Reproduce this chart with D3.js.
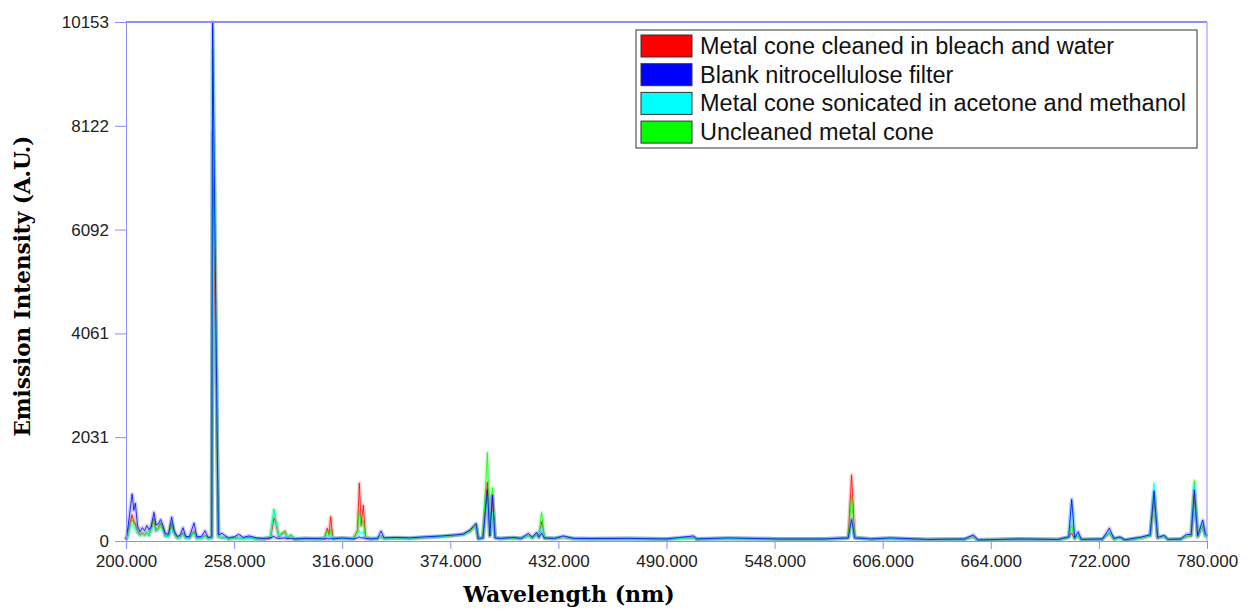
<!DOCTYPE html>
<html>
<head>
<meta charset="utf-8">
<script src="https://cdn.jsdelivr.net/npm/d3@7"></script>
<style>
  body { margin: 0; background: #fff; }
  svg { display: block; }
</style>
</head>
<body>
<div id="chart"></div>
<script>
var svgW = 1256,
    svgH = 613;

// data (wavelength in nm, intensity in A.U.)
var wavelength = [
  200.0, 201.0, 202.2, 203.3, 204.2, 205.0, 206.2, 207.5, 208.8, 210.0,
  211.2, 212.3, 213.5, 215.0, 216.0, 217.2, 218.6, 219.8, 221.0, 222.8,
  224.5, 225.8, 227.5, 229.0, 230.6, 232.0, 234.0, 236.5, 238.0, 240.5,
  242.4, 244.0, 246.0, 246.5, 249.0, 249.6, 251.5, 253.0, 255.0, 258.0,
  260.5, 263.0, 266.0, 270.0, 274.0, 277.5, 279.4, 280.4, 282.0, 285.3,
  286.5, 288.4, 290.5, 296.0, 302.0, 306.5, 308.0, 309.0, 309.8, 311.0,
  316.0, 322.0, 324.2, 325.2, 326.2, 327.3, 328.5, 331.0, 335.0, 336.8,
  338.5, 345.0, 352.0, 360.0, 370.0, 377.0, 381.0, 384.6, 387.8, 389.0,
  391.5, 393.9, 395.2, 396.6, 398.0, 401.0, 408.0, 412.0, 415.9, 418.0,
  420.3, 421.5, 423.0, 424.5, 430.0, 434.6, 440.0, 450.0, 470.0, 490.0,
  504.7, 506.0, 523.0, 550.0, 575.0, 587.5, 589.3, 591.0, 600.0, 610.0,
  630.0, 650.0, 654.6, 657.0, 680.0, 700.0, 705.8, 707.4, 709.0, 710.9,
  712.5, 724.0, 727.6, 730.0, 733.3, 736.0, 745.0, 749.5, 751.6, 753.5,
  757.0, 759.0, 766.0, 769.0, 771.5, 773.2, 775.0, 777.7, 779.0, 780.0
];

var redVals = [
  20, 120, 350, 510, 380, 330, 180, 120, 150, 120,
  160, 110, 250, 430, 200, 250, 340, 240, 100, 90,
  330, 150, 60, 70, 150, 60, 50, 180, 50, 60,
  100, 50, 60, 8000, 1600, 80, 60, 70, 40, 60,
  50, 50, 60, 40, 40, 60, 450, 350, 80, 190,
  60, 110, 40, 50, 40, 60, 250, 120, 475, 60,
  50, 50, 200, 1130, 300, 700, 80, 50, 50, 80,
  50, 60, 50, 70, 90, 110, 130, 190, 300, 40,
  60, 1150, 100, 900, 70, 50, 60, 50, 100, 60,
  120, 70, 380, 60, 50, 70, 50, 40, 50, 40,
  60, 40, 50, 40, 40, 60, 1290, 70, 40, 50,
  30, 40, 80, 20, 40, 30, 70, 150, 50, 100,
  30, 40, 150, 40, 60, 20, 60, 100, 850, 60,
  90, 30, 40, 80, 100, 900, 80, 300, 100, 80
];

var blueVals = [
  30, 250, 600, 920, 600, 740, 300, 180, 260, 200,
  300, 220, 280, 560, 320, 330, 420, 300, 150, 130,
  470, 200, 90, 110, 260, 90, 80, 350, 80, 90,
  200, 70, 80, 10153, 1780, 120, 150, 110, 60, 80,
  130, 70, 100, 60, 50, 60, 90, 60, 50, 60,
  50, 50, 40, 50, 50, 40, 50, 40, 50, 40,
  60, 40, 60, 80, 60, 60, 50, 40, 50, 195,
  60, 70, 60, 80, 100, 120, 135, 215, 345, 50,
  60, 1000, 100, 900, 60, 50, 70, 50, 150, 70,
  170, 80, 150, 60, 50, 100, 50, 50, 50, 40,
  100, 40, 60, 40, 40, 60, 420, 60, 40, 60,
  30, 40, 120, 20, 40, 30, 80, 815, 60, 180,
  30, 40, 250, 50, 80, 20, 80, 120, 980, 70,
  110, 30, 40, 130, 120, 1000, 100, 410, 150, 100
];

var cyanVals = [
  20, 100, 260, 310, 260, 250, 160, 110, 140, 110,
  150, 120, 200, 300, 180, 200, 280, 200, 90, 80,
  260, 120, 50, 60, 130, 50, 50, 150, 40, 50,
  90, 40, 60, 10000, 1700, 80, 60, 60, 40, 60,
  50, 40, 50, 40, 40, 80, 600, 380, 90, 150,
  60, 100, 40, 50, 40, 60, 120, 80, 150, 50,
  50, 50, 120, 200, 150, 180, 60, 50, 50, 80,
  50, 60, 50, 70, 90, 110, 120, 180, 290, 40,
  60, 900, 120, 550, 70, 50, 60, 50, 100, 60,
  110, 70, 300, 60, 50, 70, 50, 40, 50, 40,
  60, 40, 50, 40, 40, 60, 400, 60, 40, 50,
  30, 40, 80, 20, 40, 30, 70, 760, 50, 120,
  30, 40, 180, 40, 60, 20, 60, 110, 1130, 60,
  90, 30, 40, 80, 110, 1100, 80, 350, 100, 80
];

var greenVals = [
  20, 110, 330, 420, 330, 300, 170, 110, 140, 120,
  170, 110, 240, 420, 260, 240, 330, 230, 100, 90,
  380, 140, 60, 70, 150, 60, 50, 170, 50, 60,
  100, 50, 60, 9600, 1650, 80, 70, 70, 40, 60,
  50, 50, 60, 40, 40, 90, 620, 420, 100, 195,
  60, 120, 40, 50, 40, 60, 200, 100, 230, 60,
  50, 50, 200, 600, 300, 400, 80, 50, 50, 90,
  50, 60, 50, 70, 90, 110, 130, 200, 320, 40,
  70, 1730, 100, 1040, 70, 50, 60, 50, 110, 60,
  130, 70, 555, 60, 50, 70, 50, 40, 50, 40,
  60, 40, 50, 40, 40, 60, 880, 70, 40, 50,
  30, 40, 80, 20, 40, 30, 70, 300, 50, 100,
  30, 40, 150, 40, 60, 20, 60, 100, 900, 60,
  90, 30, 40, 90, 100, 1180, 90, 320, 100, 80
];

var seriesNames = [
  "Metal cone cleaned in bleach and water",
  "Blank nitrocellulose filter",
  "Metal cone sonicated in acetone and methanol",
  "Uncleaned metal cone"
];
var seriesColors = ["#ff0000", "#0000ff", "#00ffff", "#00ff00"];
var seriesVals = [redVals, blueVals, cyanVals, greenVals];
var drawOrder = [0, 3, 2, 1]; // red, green, cyan, blue on top

var xTicks = [200, 258, 316, 374, 432, 490, 548, 606, 664, 722, 780];
var yTicks = [0, 2031, 4061, 6092, 8122, 10153];

var axisColor = "#8d8dff";

var svg = d3.select("#chart").append("svg")
    .attr("width", svgW)
    .attr("height", svgH);

var x = d3.scaleLinear().domain([200, 780]).range([126, 1207]);
var y = d3.scaleLinear().domain([0, 10153]).range([541, 22]);

// линии спектров
var line = d3.line()
    .x(function (d, i) { return x(wavelength[i]); })
    .y(function (d) { return y(d); });

var plot = svg.append("g");
// светлый ореол под линиями
drawOrder.forEach(function (k) {
    plot.append("path")
        .attr("d", line(seriesVals[k]))
        .attr("fill", "none")
        .attr("stroke", seriesColors[k])
        .attr("stroke-opacity", 0.2)
        .attr("stroke-width", 4)
        .attr("stroke-linejoin", "round");
});
drawOrder.forEach(function (k) {
    plot.append("path")
        .attr("d", line(seriesVals[k]))
        .attr("fill", "none")
        .attr("stroke", seriesColors[k])
        .attr("stroke-opacity", 0.8)
        .attr("stroke-width", 1)
        .attr("stroke-linejoin", "round");
});

// рамка
svg.append("line")
    .attr("x1", 126).attr("x2", 1207).attr("y1", 22).attr("y2", 22)
    .attr("stroke", axisColor).attr("stroke-width", 2);
svg.append("line")
    .attr("x1", 1207).attr("x2", 1207).attr("y1", 22).attr("y2", 541)
    .attr("stroke", axisColor).attr("stroke-width", 1);

// оси
var yAxis = svg.append("g")
    .attr("transform", "translate(126,0)")
    .call(d3.axisLeft(y).tickValues(yTicks).tickFormat(d3.format("d"))
        .tickSize(11).tickSizeOuter(0).tickPadding(6));

var xAxis = svg.append("g")
    .attr("transform", "translate(0,541)")
    .call(d3.axisBottom(x).tickValues(xTicks).tickFormat(d3.format(".3f"))
        .tickSize(8).tickSizeOuter(0).tickPadding(6));

[yAxis, xAxis].forEach(function (g) {
    g.select(".domain").attr("stroke", axisColor);
    g.selectAll(".tick line").attr("stroke", axisColor);
    g.selectAll(".tick text")
        .attr("fill", "#222")
        .style("font-family", "'Liberation Sans', Arial, sans-serif")
        .style("font-size", "17px");
});

// подписи осей
svg.append("text")
    .attr("x", 569).attr("y", 602)
    .attr("text-anchor", "middle")
    .style("font-family", "'DejaVu Serif', serif")
    .style("font-weight", "bold")
    .style("font-size", "22px")
    .text("Wavelength (nm)");

svg.append("text")
    .attr("transform", "translate(30,286) rotate(-90)")
    .attr("text-anchor", "middle")
    .style("font-family", "'DejaVu Serif', serif")
    .style("font-weight", "bold")
    .style("font-size", "21.5px")
    .text("Emission Intensity (A.U.)");

// легенда
var legend = svg.append("g").attr("transform", "translate(636,30)");
legend.append("rect")
    .attr("x", 0).attr("y", 0).attr("width", 561).attr("height", 118)
    .attr("fill", "#fff").attr("stroke", "#333").attr("stroke-width", 1);

var items = legend.selectAll("g.item").data(seriesNames).enter().append("g")
    .attr("class", "item")
    .attr("transform", function (d, i) { return "translate(5," + (5 + i * 28.7) + ")"; });
items.append("rect")
    .attr("width", 51).attr("height", 22)
    .attr("fill", function (d, i) { return seriesColors[i]; })
    .attr("stroke", "#333").attr("stroke-width", 1);
items.append("text")
    .attr("x", 59).attr("y", 19)
    .attr("fill", "#111")
    .style("font-family", "'Liberation Sans', Arial, sans-serif")
    .style("font-size", "23.5px")
    .text(function (d) { return d; });
</script>
</body>
</html>
